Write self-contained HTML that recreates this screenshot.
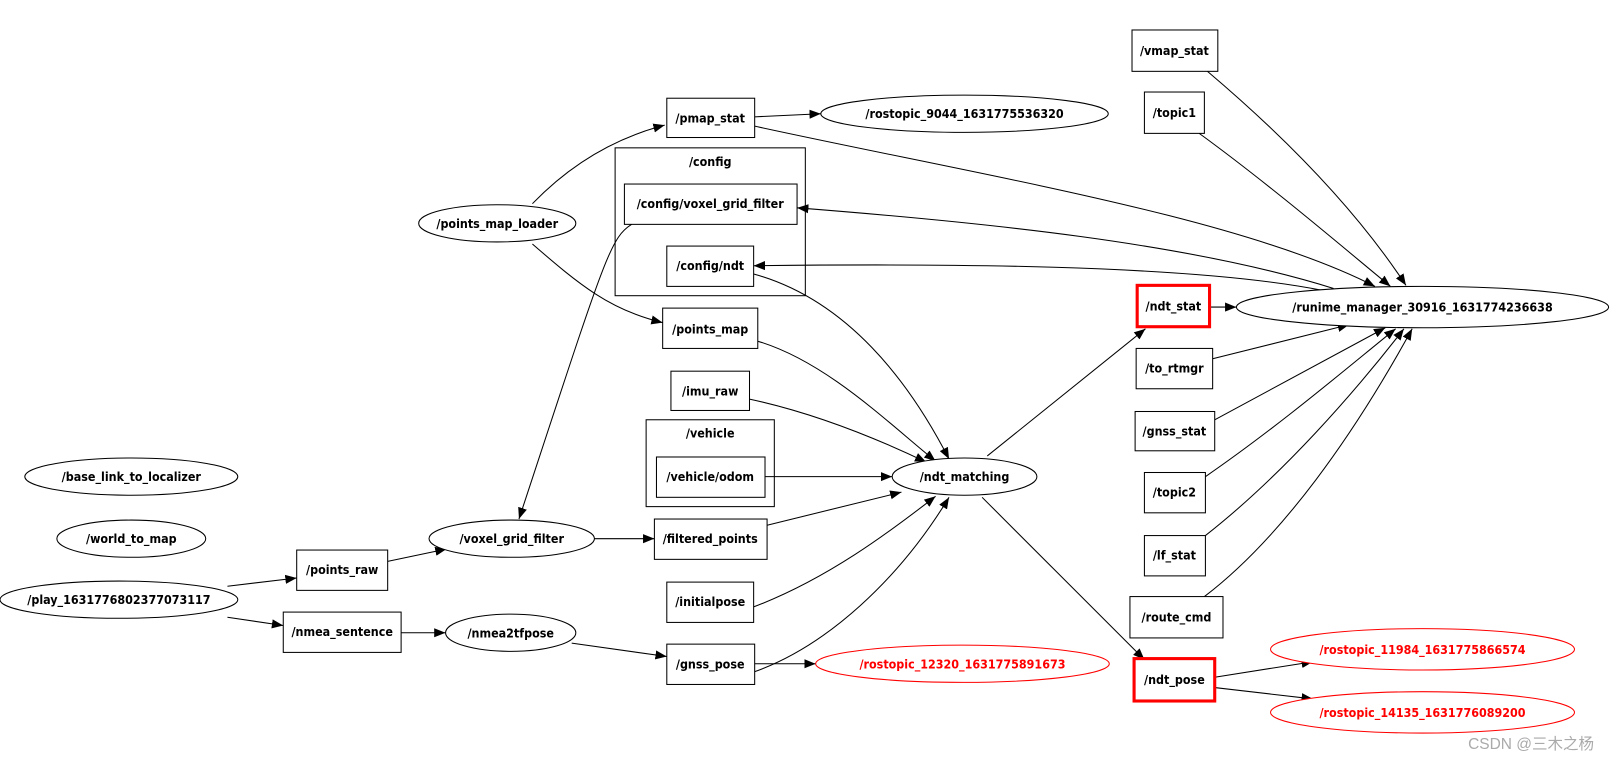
<!DOCTYPE html>
<html><head><meta charset="utf-8"><style>
html,body{margin:0;padding:0;background:#fff;}
svg{display:block;}
text{font-family:"DejaVu Sans Condensed","Liberation Sans",sans-serif;font-weight:bold;font-size:12px;text-anchor:middle;dominant-baseline:central;}
</style></head><body>
<svg width="1621" height="762" viewBox="0 0 1568 737" preserveAspectRatio="none" xmlns="http://www.w3.org/2000/svg">
<defs>
<marker id="a" viewBox="0 0 10 8" refX="10" refY="4" markerWidth="11" markerHeight="9" markerUnits="userSpaceOnUse" orient="auto"><path d="M0,0L10,4L0,8z" fill="#000"/></marker>
</defs>
<g fill="none" stroke="#000" stroke-width="1">
<rect x="595" y="143" width="184" height="143"/>
<rect x="625" y="406" width="124" height="84"/>
</g>
<g fill="none" stroke="#000" stroke-width="1" marker-end="url(#a)">
<path d="M515,197 Q570,140 643,121"/>
<path d="M730,113 L794,110"/>
<path d="M730,122 C950,170 1200,210 1330,277"/>
<path d="M1290,279 C1150,235 950,215 771,201"/>
<path d="M1280,281 C1150,255 900,255 729,257"/>
<path d="M1168,69 C1240,130 1310,200 1360,276"/>
<path d="M1160,129 C1230,180 1300,240 1345,277"/>
<path d="M611,217 C590,230 585,250 502,502"/>
<path d="M515,236 C560,275 590,300 641,312"/>
<path d="M729,265 C820,290 880,370 918,444"/>
<path d="M733,330 C800,350 860,410 905,446"/>
<path d="M725,386 C790,400 850,425 896,447"/>
<path d="M740,461 L863,461"/>
<path d="M742,508 L872,476"/>
<path d="M729,587 C800,560 860,515 905,480"/>
<path d="M729,650 C800,625 870,560 918,481"/>
<path d="M730,642 L789,642"/>
<path d="M575,521 L633,521"/>
<path d="M375,543 L432,531"/>
<path d="M220,567 L287,559"/>
<path d="M220,597 L274,605"/>
<path d="M388,612 L431,612"/>
<path d="M553,622 L645,635"/>
<path d="M955,441 L1108,318"/>
<path d="M950,481 L1107,638"/>
<path d="M1170,297 L1196,297"/>
<path d="M1173,347 L1305,314"/>
<path d="M1175,406 L1340,317"/>
<path d="M1166,461 C1240,410 1310,350 1350,318"/>
<path d="M1166,518 C1240,460 1310,380 1358,318"/>
<path d="M1165,577 C1240,520 1310,420 1366,318"/>
<path d="M1175,655 L1270,640"/>
<path d="M1175,665 L1270,676"/>
</g>
<g fill="#fff" stroke="#000" stroke-width="1">
<rect x="1095" y="29" width="83" height="40"/>
<rect x="1107" y="89" width="58" height="40"/>
<rect x="645" y="95" width="85" height="38"/>
<ellipse cx="933" cy="110" rx="139" ry="18"/>
<rect x="604" y="178" width="167" height="39"/>
<rect x="645" y="238" width="84" height="39"/>
<ellipse cx="481" cy="216" rx="76" ry="18"/>
<rect x="641" y="298" width="92" height="39"/>
<rect x="649" y="359" width="76" height="38"/>
<rect x="635" y="442" width="105" height="39"/>
<ellipse cx="933" cy="461" rx="70" ry="18"/>
<rect x="633" y="502" width="109" height="39"/>
<rect x="645" y="563" width="84" height="39"/>
<rect x="645" y="623" width="85" height="39"/>
<ellipse cx="495" cy="521" rx="80" ry="18"/>
<ellipse cx="494" cy="612" rx="63" ry="18"/>
<rect x="287" y="532" width="88" height="39"/>
<rect x="274" y="592" width="114" height="39"/>
<ellipse cx="115" cy="580" rx="115" ry="18"/>
<ellipse cx="127" cy="521" rx="72" ry="18"/>
<ellipse cx="127" cy="461" rx="103" ry="18"/>
<ellipse cx="1376" cy="297" rx="180" ry="20"/>
<rect x="1099" y="337" width="74" height="39"/>
<rect x="1098" y="398" width="77" height="38"/>
<rect x="1107" y="457" width="59" height="39"/>
<rect x="1107" y="518" width="59" height="39"/>
<rect x="1093" y="577" width="90" height="40"/>
</g>
<g fill="#fff" stroke="#f00">
<rect x="1100" y="276" width="70" height="40" stroke-width="3"/>
<rect x="1097" y="637" width="78" height="41" stroke-width="3"/>
<ellipse cx="931" cy="642" rx="142" ry="18"/>
<ellipse cx="1376" cy="628" rx="147" ry="20"/>
<ellipse cx="1376" cy="689" rx="147" ry="20"/>
</g>
<g fill="#000">
<text x="1136" y="49">/vmap_stat</text>
<text x="1136" y="109">/topic1</text>
<text x="687" y="114">/pmap_stat</text>
<text x="933" y="110">/rostopic_9044_1631775536320</text>
<text x="687" y="156">/config</text>
<text x="687" y="197">/config/voxel_grid_filter</text>
<text x="687" y="257">/config/ndt</text>
<text x="481" y="216">/points_map_loader</text>
<text x="687" y="318">/points_map</text>
<text x="687" y="378">/imu_raw</text>
<text x="687" y="419">/vehicle</text>
<text x="687" y="461">/vehicle/odom</text>
<text x="933" y="461">/ndt_matching</text>
<text x="687" y="521">/filtered_points</text>
<text x="687" y="582">/initialpose</text>
<text x="687" y="642">/gnss_pose</text>
<text x="495" y="521">/voxel_grid_filter</text>
<text x="494" y="612">/nmea2tfpose</text>
<text x="331" y="551">/points_raw</text>
<text x="331" y="611">/nmea_sentence</text>
<text x="115" y="580">/play_1631776802377073117</text>
<text x="127" y="521">/world_to_map</text>
<text x="127" y="461">/base_link_to_localizer</text>
<text x="1135" y="296">/ndt_stat</text>
<text x="1376" y="297">/runime_manager_30916_1631774236638</text>
<text x="1136" y="356">/to_rtmgr</text>
<text x="1136" y="417">/gnss_stat</text>
<text x="1136" y="476">/topic2</text>
<text x="1136" y="537">/lf_stat</text>
<text x="1138" y="597">/route_cmd</text>
<text x="1136" y="657">/ndt_pose</text>
</g>
<g fill="#f00">
<text x="931" y="642">/rostopic_12320_1631775891673</text>
<text x="1376" y="628">/rostopic_11984_1631775866574</text>
<text x="1376" y="689">/rostopic_14135_1631776089200</text>
</g>
<text x="1481" y="720" style="font-weight:normal;font-size:15px;fill:#aaa;font-family:'Liberation Sans','Noto Sans CJK SC',sans-serif">CSDN @三木之杨</text>
</svg>
</body></html>
